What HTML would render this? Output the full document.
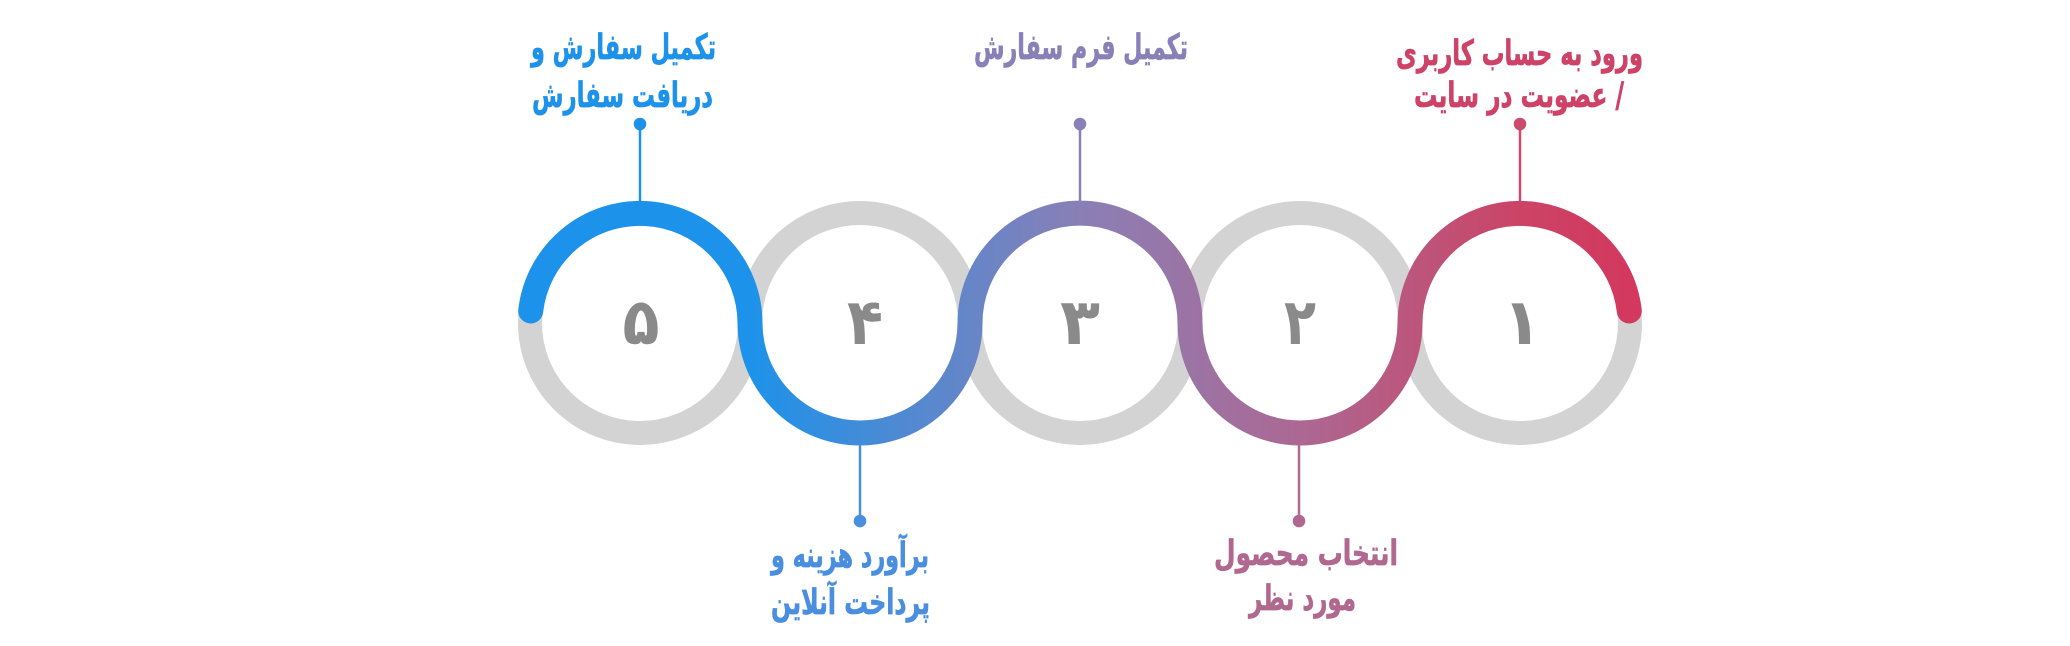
<!DOCTYPE html>
<html>
<head>
<meta charset="utf-8">
<style>
html,body{margin:0;padding:0;background:#ffffff;}
body{width:2070px;height:646px;overflow:hidden;}
svg{display:block;}
.lbl{font-family:"DejaVu Sans","Liberation Sans",sans-serif;font-weight:bold;font-size:35px;}
.num{font-family:"DejaVu Sans","Liberation Sans",sans-serif;font-weight:bold;font-size:64px;fill:#8a8a8a;}
</style>
</head>
<body>
<svg width="2070" height="646" viewBox="0 0 2070 646" xmlns="http://www.w3.org/2000/svg">
  <defs>
    <linearGradient id="g" gradientUnits="userSpaceOnUse" x1="750" y1="0" x2="1630" y2="0">
      <stop offset="0" stop-color="#1d92ea"/>
      <stop offset="0.375" stop-color="#8a7fb6"/>
      <stop offset="0.625" stop-color="#ac6893"/>
      <stop offset="0.875" stop-color="#cb4466"/>
      <stop offset="1" stop-color="#d3385e"/>
    </linearGradient>
  </defs>

  <!-- gray rings -->
  <g fill="none" stroke="rgb(192,192,192)" stroke-opacity="0.7" stroke-width="24">
    <circle cx="640" cy="323" r="110"/>
    <circle cx="860" cy="323" r="110"/>
    <circle cx="1080" cy="323" r="110"/>
    <circle cx="1300" cy="323" r="110"/>
    <circle cx="1520" cy="323" r="110"/>
  </g>

  <!-- colored wave -->
  <path d="M 530.7 311 A 110 110 0 0 1 750 323 A 110 110 0 0 0 970 323 A 110 110 0 0 1 1190 323 A 110 110 0 0 0 1410 323 A 110 110 0 0 1 1629.3 311"
        fill="none" stroke="url(#g)" stroke-width="25" stroke-linecap="round"/>

  <!-- numbers -->
  <text class="num" x="641" y="344" text-anchor="middle" textLength="37" lengthAdjust="spacingAndGlyphs">۵</text>
  <text class="num" x="865" y="344" text-anchor="middle" textLength="36" lengthAdjust="spacingAndGlyphs">۴</text>
  <text class="num" x="1080" y="344" text-anchor="middle" textLength="40" lengthAdjust="spacingAndGlyphs">۳</text>
  <text class="num" x="1300" y="344" text-anchor="middle" textLength="32" lengthAdjust="spacingAndGlyphs">۲</text>
  <text class="num" x="1522" y="344" text-anchor="middle">۱</text>

  <!-- connectors -->
  <g stroke-width="2.5">
    <line x1="640" y1="124" x2="640" y2="201" stroke="#1d92ea"/>
    <line x1="1080" y1="124" x2="1080" y2="201" stroke="#8a80b8"/>
    <line x1="1520" y1="124" x2="1520" y2="201" stroke="#cc4a6e"/>
    <line x1="860" y1="445" x2="860" y2="521" stroke="#4a8fdf"/>
    <line x1="1299" y1="445" x2="1299" y2="521" stroke="#b06891"/>
  </g>
  <circle cx="640" cy="124" r="6.3" fill="#1d92ea"/>
  <circle cx="1080" cy="124" r="6.3" fill="#8a80b8"/>
  <circle cx="1520" cy="124" r="6.3" fill="#cc4a6e"/>
  <circle cx="860" cy="521" r="6.3" fill="#4a8fdf"/>
  <circle cx="1299" cy="521" r="6.3" fill="#b06891"/>

  <!-- labels -->
  <g class="lbl" stroke-width="0.7">
    <text x="623.5" y="59" fill="#1d92ea" stroke="#1d92ea" text-anchor="middle" direction="rtl" textLength="185" lengthAdjust="spacingAndGlyphs">تکمیل سفارش و</text>
    <text x="622.5" y="107" fill="#1d92ea" stroke="#1d92ea" text-anchor="middle" direction="rtl" textLength="181" lengthAdjust="spacingAndGlyphs">دریافت سفارش</text>

    <text x="1081" y="59" fill="#8a80b8" stroke="#8a80b8" text-anchor="middle" direction="rtl" textLength="214" lengthAdjust="spacingAndGlyphs">تکمیل فرم سفارش</text>

    <text x="1519.5" y="65" fill="#cd4266" stroke="#cd4266" text-anchor="middle" direction="rtl" textLength="247" lengthAdjust="spacingAndGlyphs">ورود به حساب کاربری</text>
    <text x="1519" y="107" fill="#cd4266" stroke="#cd4266" text-anchor="middle" direction="rtl" textLength="210" lengthAdjust="spacingAndGlyphs">/ عضویت در سایت</text>

    <text x="850" y="567" fill="#4a8fdf" stroke="#4a8fdf" text-anchor="middle" direction="rtl" textLength="158" lengthAdjust="spacingAndGlyphs">برآورد هزینه و</text>
    <text x="850.5" y="614" fill="#4a8fdf" stroke="#4a8fdf" text-anchor="middle" direction="rtl" textLength="159" lengthAdjust="spacingAndGlyphs">پرداخت آنلاین</text>

    <text x="1306" y="565" fill="#b0688f" stroke="#b0688f" text-anchor="middle" direction="rtl" textLength="184" lengthAdjust="spacingAndGlyphs">انتخاب محصول</text>
    <text x="1302.5" y="610" fill="#b0688f" stroke="#b0688f" text-anchor="middle" direction="rtl" textLength="107" lengthAdjust="spacingAndGlyphs">مورد نظر</text>
  </g>
</svg>
</body>
</html>
